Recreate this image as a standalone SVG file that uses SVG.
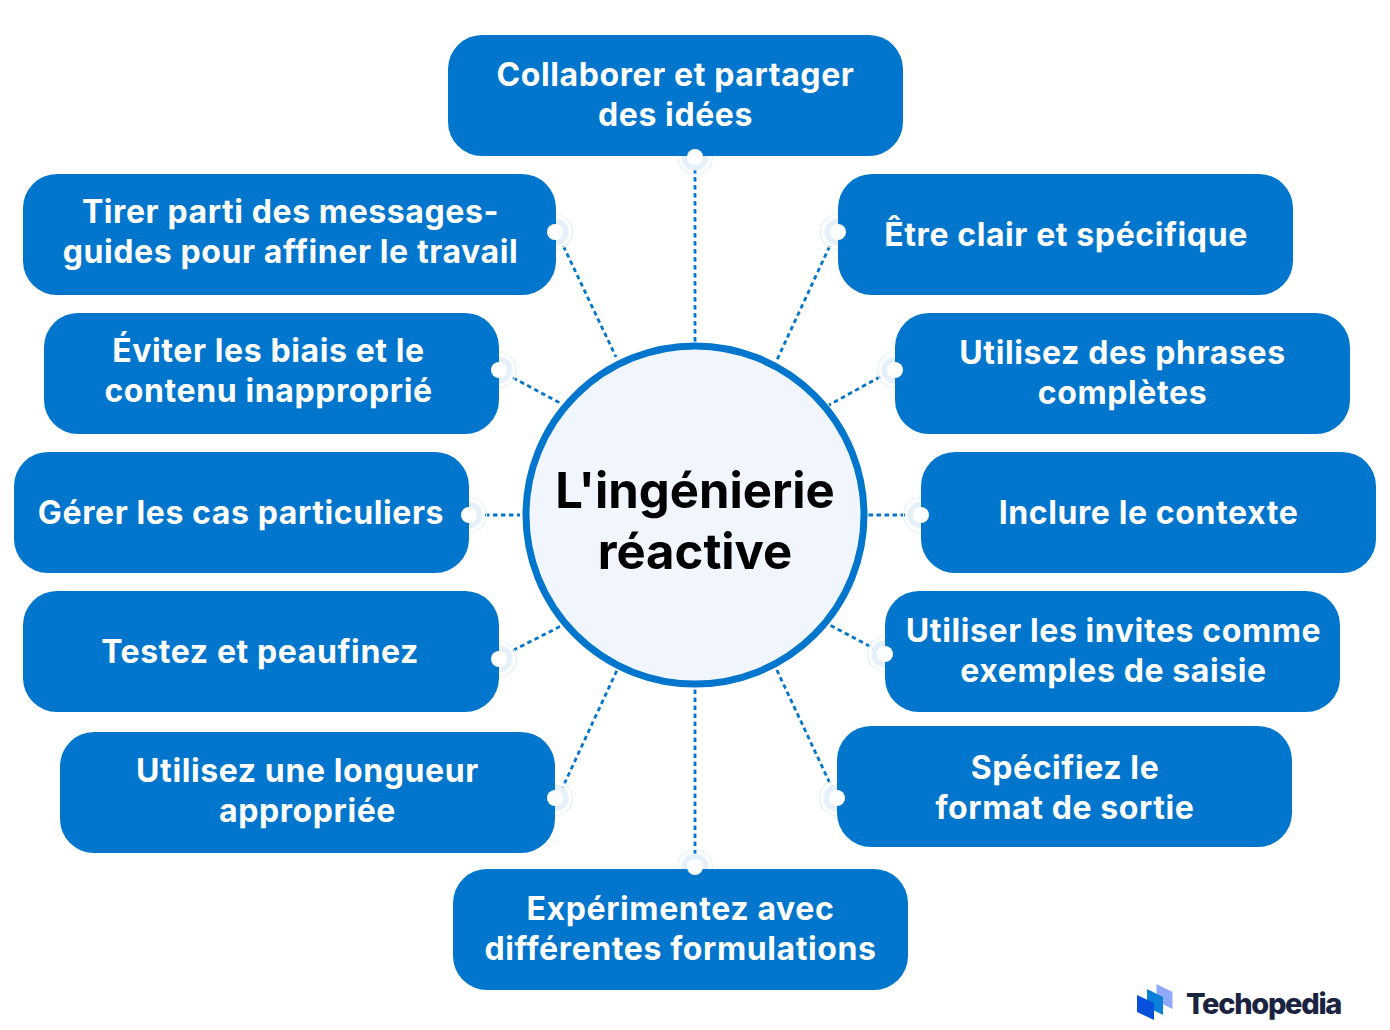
<svg xmlns="http://www.w3.org/2000/svg" width="1390" height="1030" viewBox="0 0 1390 1030">
<style>
.b{fill:#0176cc}
.t{font-family:Inter,"Liberation Sans",sans-serif;font-weight:700;font-size:32px;letter-spacing:.6px;fill:#fff;text-anchor:middle}
.c{font-family:Inter,"Liberation Sans",sans-serif;font-weight:700;font-size:49px;fill:#000;text-anchor:middle}
.l{stroke:#0176cc;stroke-width:2.800;stroke-dasharray:4.500 3.500;fill:none}
.r1{fill:#e6f0fa}
.r2{fill:none;stroke:#e6f0fa;stroke-width:1.200}
.d{fill:#fff}
</style>
<defs>
<g id="rings"><circle class="r2" r="17.500"/><circle class="r1" r="13.500"/></g>
</defs>
<rect width="1390" height="1030" fill="#fff"/>
<g id="connectors">
<path class="l" d="M695 169V343"/>
<path class="l" d="M833 239L776 362"/>
<path class="l" d="M887 373L829 405"/>
<path class="l" d="M913 515H868"/>
<path class="l" d="M877 650L828 624"/>
<path class="l" d="M833 790L775 666"/>
<path class="l" d="M695 862V688"/>
<path class="l" d="M561 791L618 668"/>
<path class="l" d="M506 654L563 625"/>
<path class="l" d="M477 515H520"/>
<path class="l" d="M506 374L560 403"/>
<path class="l" d="M560 239L616 357"/>
</g>
<g id="rings-all">
<use href="#rings" x="695" y="157"/><use href="#rings" x="838" y="232"/><use href="#rings" x="895" y="370"/><use href="#rings" x="921" y="515"/><use href="#rings" x="885" y="654"/><use href="#rings" x="837" y="798"/><use href="#rings" x="695" y="867"/><use href="#rings" x="555" y="798"/><use href="#rings" x="499" y="659"/><use href="#rings" x="469" y="515"/><use href="#rings" x="499" y="370"/><use href="#rings" x="555" y="232"/>
</g>
<g id="center"><circle cx="695" cy="515" r="169" fill="#f0f5fe" stroke="#0176cc" stroke-width="7"/><text class="c" x="695" y="508">L'ingénierie</text><text class="c" x="695" y="569">réactive</text></g>
<g id="n1"><rect class="b" x="448" y="35" width="455" height="121" rx="34"/><text class="t" x="675.500" y="86">Collaborer et partager</text><text class="t" x="675.500" y="126">des idées</text><circle class="d" cx="695" cy="157" r="8"/></g>
<g id="n2"><rect class="b" x="838" y="174" width="455" height="121" rx="34"/><text class="t" x="1066" y="246">Être clair et spécifique</text><circle class="d" cx="838" cy="232" r="8"/></g>
<g id="n3"><rect class="b" x="895" y="313" width="455" height="121" rx="34"/><text class="t" x="1122.500" y="364">Utilisez des phrases</text><text class="t" x="1122.500" y="404">complètes</text><circle class="d" cx="895" cy="370" r="8"/></g>
<g id="n4"><rect class="b" x="921" y="452" width="455" height="121" rx="34"/><text class="t" x="1148.500" y="524">Inclure le contexte</text><circle class="d" cx="921" cy="515" r="8"/></g>
<g id="n5"><rect class="b" x="885" y="591" width="455" height="121" rx="34"/><text class="t" x="1113.500" y="642">Utiliser les invites comme</text><text class="t" x="1113.500" y="682">exemples de saisie</text><circle class="d" cx="885" cy="654" r="8"/></g>
<g id="n6"><rect class="b" x="837" y="726" width="455" height="121" rx="34"/><text class="t" x="1065" y="779">Spécifiez le</text><text class="t" x="1065" y="819">format de sortie</text><circle class="d" cx="837" cy="798" r="8"/></g>
<g id="n7"><rect class="b" x="453" y="869" width="455" height="121" rx="34"/><text class="t" x="680.500" y="920">Expérimentez avec</text><text class="t" x="680.500" y="960">différentes formulations</text><circle class="d" cx="695" cy="867" r="8"/></g>
<g id="n8"><rect class="b" x="60" y="732" width="495" height="121" rx="34"/><text class="t" x="307.500" y="782">Utilisez une longueur</text><text class="t" x="307.500" y="822">appropriée</text><circle class="d" cx="555" cy="798" r="8"/></g>
<g id="n9"><rect class="b" x="23" y="591" width="476" height="121" rx="34"/><text class="t" x="260" y="663">Testez et peaufinez</text><circle class="d" cx="499" cy="659" r="8"/></g>
<g id="n10"><rect class="b" x="14" y="452" width="455" height="121" rx="34"/><text class="t" x="241" y="524">Gérer les cas particuliers</text><circle class="d" cx="469" cy="515" r="8"/></g>
<g id="n11"><rect class="b" x="44" y="313" width="455" height="121" rx="34"/><text class="t" x="268.500" y="362">Éviter les biais et le</text><text class="t" x="268.500" y="402">contenu inapproprié</text><circle class="d" cx="499" cy="370" r="8"/></g>
<g id="n12"><rect class="b" x="23" y="174" width="533" height="121" rx="34"/><text class="t" x="290.500" y="223">Tirer parti des messages-</text><text class="t" x="290.500" y="263">guides pour affiner le travail</text><circle class="d" cx="555" cy="232" r="8"/></g>
<g id="logo">
<path d="M1156.500 984L1172.500 992V1009L1156.500 1001Z" fill="#8ea9fb"/>
<path d="M1147 989L1163 997V1015L1147 1007Z" fill="#0b80d8"/>
<path d="M1137 995L1154 1003V1020L1137 1012Z" fill="#0650dc"/>
<text x="1186" y="1014" font-family="Inter,'Liberation Sans',sans-serif" font-weight="800" font-size="29" letter-spacing="-1.300" fill="#1a2340">Techopedia</text>
</g>
</svg>
